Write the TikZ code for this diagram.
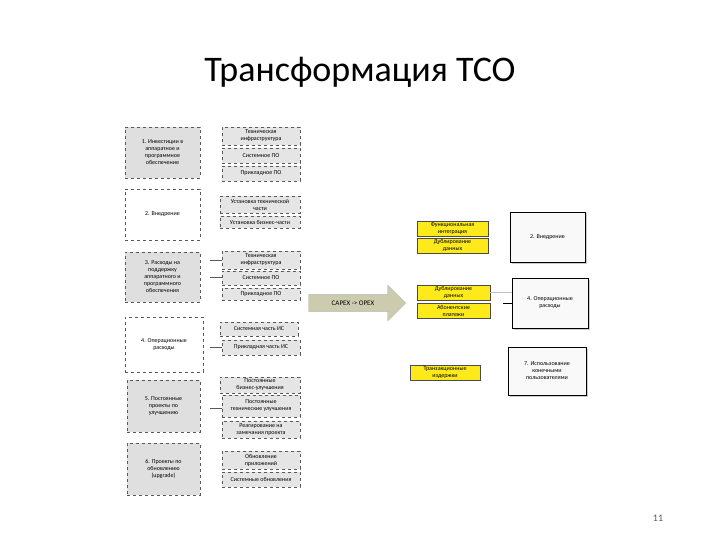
\documentclass[tikz,border=0pt]{standalone}
\usepackage{fontspec}
\setmainfont{Carlito}
\usetikzlibrary{shapes.arrows,shadows}
\newcommand{\bx}[7]{%
  \pgfmathsetmacro{\cxx}{(#2+#4)/2}\pgfmathsetmacro{\cyy}{(#3+#5)/2}%
  \pgfmathsetmacro{\ww}{#4-#2}\pgfmathsetmacro{\hh}{#5-#3}%
  \node[#6, minimum width=\ww pt, minimum height=\hh pt] (#1) at (\cxx,\cyy) {#7};}
\begin{document}
\begin{tikzpicture}[x=1pt,y=-1pt,
  base/.style={inner sep=1pt, align=center, font=\fontsize{6}{7}\selectfont},
  gbox/.style={base, draw=gray!70!black, dashed, thick, fill=gray!25},
  wbox/.style={base, draw=gray!70!black, dashed, thick, fill=white},
  sbox/.style={base, draw=gray!70!black, dashed, fill=gray!20},
  ybox/.style={base, draw=gray!60!black, fill=yellow!90!orange!90, drop shadow={shadow xshift=1pt,shadow yshift=-1pt,opacity=0.3}},
  rbox/.style={base, draw=black, thick, fill=gray!5, drop shadow={shadow xshift=1.5pt,shadow yshift=-1.5pt,opacity=0.4}},
  con/.style={draw=gray!70!black}]
\useasboundingbox (0,0) rectangle (720,540);
\fill[white] (0,0) rectangle (720,540);
\node[font=\fontsize{36}{40}\selectfont] (title) at (360,72) {Трансформация TCO};
\node[font=\fontsize{10}{12}\selectfont, text=gray!70!black] (pg) at (658,518) {11};
% left column
\bx{l1}{125}{127}{200}{178}{gbox}{1. Инвестиции в\\аппаратное и\\программное\\обеспечение}
\bx{l2}{125}{189}{200}{240}{wbox}{2. Внедрение}
\bx{l3}{125}{252}{200}{302}{gbox}{3. Расходы на\\поддержку\\аппаратного и\\программного\\обеспечения}
\bx{l4}{125}{317}{203}{372}{wbox}{4. Операционные\\расходы}
\bx{l5}{127}{380}{200}{432}{gbox}{5. Постоянные\\проекты по\\улучшению}
\bx{l6}{127}{443}{200}{495}{gbox}{6. Проекты по\\обновлению\\(upgrade)}
% sub boxes
\bx{a1}{222}{127}{300}{145}{sbox}{Техническая\\инфраструктура}
\bx{a2}{222}{148}{300}{163}{sbox}{Системное ПО}
\bx{a3}{222}{166}{300}{181}{sbox}{Прикладное ПО}
\bx{b1}{220}{196}{300}{213}{sbox}{Установка технической\\части}
\bx{b2}{220}{216}{300}{228}{sbox}{Установка бизнес-части}
\bx{c1}{222}{251}{300}{269}{sbox}{Техническая\\инфраструктура}
\bx{c2}{222}{271}{300}{285}{sbox}{Системное ПО}
\bx{c3}{222}{288}{300}{300}{sbox}{Прикладное ПО}
\bx{d1}{220}{322}{298}{336}{sbox}{Системная часть ИС}
\bx{d2}{222}{340}{300}{355}{sbox}{Прикладная часть ИС}
\bx{e1}{220}{377}{300}{393}{sbox}{Постоянные\\бизнес-улучшения}
\bx{e2}{222}{395}{300}{417}{sbox}{Постоянные\\технические улучшения}
\bx{e3}{222}{421}{300}{438}{sbox}{Реагирование на\\замечания проекта}
\bx{f1}{222}{451}{300}{469}{sbox}{Обновление\\приложений}
\bx{f2}{222}{472}{300}{487}{sbox}{Системные обновления}
\draw[con] (210,260) -- (c1.west |- 0,260);
\draw[con] (210,277) -- (c2.west |- 0,277);
\draw[con] (210,347) -- (d2.west |- 0,347);
\draw[con] (210,408) -- (e2.west |- 0,408);
% arrow
\node[single arrow, draw=gray!60, fill=olive!35!gray!45, minimum height=97pt, minimum width=36pt, single arrow head extend=4pt, inner sep=1pt, font=\fontsize{7}{8}\selectfont] (arr) at (353,303) {CAPEX -> OPEX\hspace{12pt}};
% yellow
\bx{y1}{417}{221}{488}{236}{ybox}{Функциональная\\интеграция}
\bx{y2}{417}{238}{488}{253}{ybox}{Дублирование\\данных}
\bx{y3}{417}{285}{490}{300}{ybox}{Дублирование\\данных}
\bx{y4}{417}{303}{490}{318}{ybox}{Абонентские\\платежи}
\bx{y5}{410}{365}{480}{380}{ybox}{Транзакционные\\издержки}
% right
\bx{r2}{510}{212}{585}{262}{rbox}{2. Внедрение}
\bx{r4}{512}{278}{588}{328}{rbox}{4. Операционные\\расходы}
\bx{r7}{508}{347}{586}{395}{rbox}{7. Использование\\конечными\\пользователями}
\draw[gray!50] (y3.east |- 0,292) -- (r4.west |- 0,292);
\draw[black] (503,303) -- (r4.west |- 0,303);
\end{tikzpicture}
\end{document}
